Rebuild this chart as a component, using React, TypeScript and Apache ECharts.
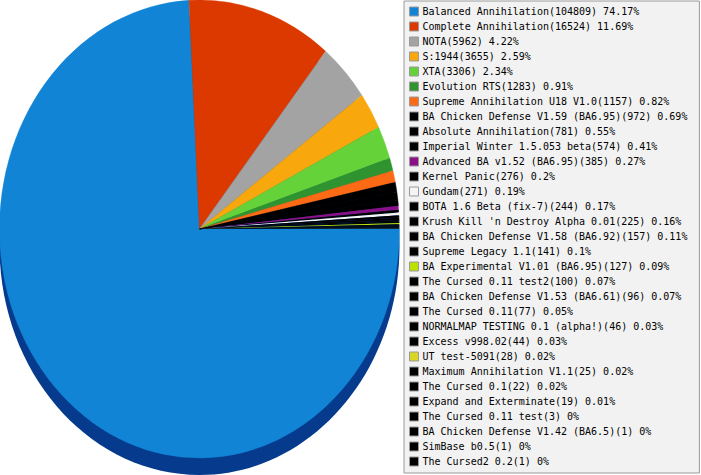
import React, { useEffect, useRef } from "react";
import * as echarts from "echarts";

const names: string[] = [
  "Balanced Annihilation",
  "Complete Annihilation",
  "NOTA",
  "S:1944",
  "XTA",
  "Evolution RTS",
  "Supreme Annihilation U18 V1.0",
  "BA Chicken Defense V1.59 (BA6.95)",
  "Absolute Annihilation",
  "Imperial Winter 1.5.053 beta",
  "Advanced BA v1.52 (BA6.95)",
  "Kernel Panic",
  "Gundam",
  "BOTA 1.6 Beta (fix-7)",
  "Krush Kill 'n Destroy Alpha 0.01",
  "BA Chicken Defense V1.58 (BA6.92)",
  "Supreme Legacy 1.1",
  "BA Experimental V1.01 (BA6.95)",
  "The Cursed 0.11 test2",
  "BA Chicken Defense V1.53 (BA6.61)",
  "The Cursed 0.11",
  "NORMALMAP TESTING 0.1 (alpha!)",
  "Excess v998.02",
  "UT test-5091",
  "Maximum Annihilation V1.1",
  "The Cursed 0.1",
  "Expand and Exterminate",
  "The Cursed 0.11 test",
  "BA Chicken Defense V1.42 (BA6.5)",
  "SimBase b0.5",
  "The Cursed2 0.2",
];

const values: number[] = [
  104809, 16524, 5962, 3655, 3306, 1283, 1157, 972, 781, 574, 385, 276, 271,
  244, 225, 157, 141, 127, 100, 96, 77, 46, 44, 28, 25, 22, 19, 3, 1, 1, 1,
];

const colors: string[] = [
  "#1184d6", "#dc3900", "#a3a3a3", "#f8a70c", "#66d23a", "#2f9430", "#fc6a15",
  "#000000", "#000000", "#000000", "#8a1088", "#000000", "#f4f4f4", "#000000",
  "#000000", "#000000", "#000000", "#bde000", "#000000", "#000000", "#000000",
  "#000000", "#000000", "#dad625", "#000000", "#000000", "#000000", "#000000",
  "#000000", "#000000", "#000000",
];

const CX = 199.5;
const CY = 229;
const R = 200;
const KY = 229 / 200;
const DEPTH = 17;
const SIDE_COLOR = "#053a8c";

export default function App() {
  const ref = useRef<HTMLDivElement>(null);

  useEffect(() => {
    if (!ref.current) return;
    const chart = echarts.init(ref.current, null, { renderer: "svg" });
    const total = values.reduce((a, b) => a + b, 0);
    const starts: number[] = [];
    let acc = 0;
    values.forEach((v) => {
      starts.push(acc);
      acc += v;
    });

    const sliceSeries = names.map((name, i) => ({
      type: "custom",
      name,
      coordinateSystem: "none",
      z: 3,
      silent: true,
      itemStyle: { color: colors[i] },
      data: [values[i]],
      renderItem: (_params: any, api: any) => {
        const v = api.value(0) as number;
        const a0 = (starts[i] / total) * Math.PI * 2;
        const a1 = ((starts[i] + v) / total) * Math.PI * 2;
        if (a1 - a0 < 1e-4) return { type: "group", children: [] };
        const big = a1 - a0 > 0.02;
        return {
          type: "sector",
          x: CX,
          y: CY,
          scaleY: KY,
          shape: { cx: 0, cy: 0, r: R, r0: 0, startAngle: a0, endAngle: a1, clockwise: true },
          style: big
            ? { fill: colors[i], stroke: colors[i], lineWidth: 0.4 }
            : { fill: colors[i] },
        };
      },
    }));

    const depthSeries = {
      type: "custom",
      name: "depth",
      coordinateSystem: "none",
      z: 1,
      silent: true,
      data: [0],
      renderItem: () => ({
        type: "ellipse",
        shape: { cx: CX, cy: CY + DEPTH, rx: R, ry: R * KY },
        style: { fill: SIDE_COLOR },
      }),
    };

    chart.setOption({
      animation: false,
      tooltip: { show: false },
      legend: {
        data: names,
        orient: "vertical",
        left: 404,
        top: 1,
        padding: [3, 12, 4, 5],
        itemGap: 0,
        itemWidth: 9,
        itemHeight: 9,
        icon: "rect",
        selectedMode: false,
        itemStyle: { borderColor: "#9a9a9a", borderWidth: 1 },
        backgroundColor: "#f2f2f2",
        borderColor: "#9a9a9a",
        borderWidth: 1,
        textStyle: {
          fontFamily: "DejaVu Sans Mono",
          fontSize: 10,
          color: "#000000",
          lineHeight: 15,
          padding: [0, 0, 0, -1],
        },
        formatter: (name: string) => {
          const i = names.indexOf(name);
          const pct = Number(((values[i] / total) * 100).toFixed(2));
          return `${name}(${values[i]}) ${pct}%`;
        },
      },
      series: [depthSeries, ...sliceSeries],
    });

    return () => chart.dispose();
  }, []);

  return (
    <div
      ref={ref}
      style={{ position: "absolute", left: 0, top: 0, width: 701, height: 475, background: "#ffffff" }}
    />
  );
}
